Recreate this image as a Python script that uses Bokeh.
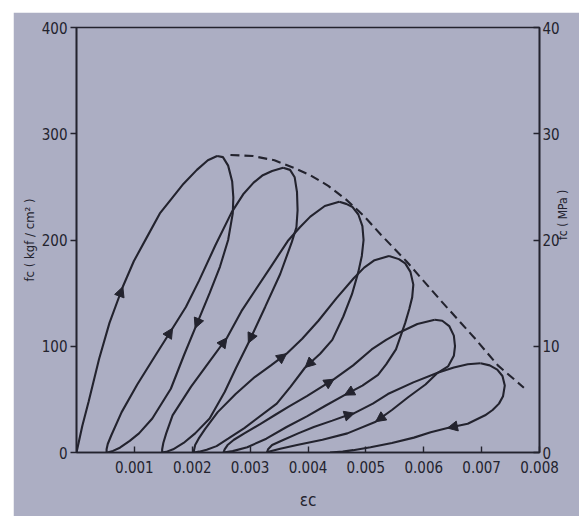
import math
from bokeh.plotting import figure
from bokeh.models import (Range1d, LinearAxis, FixedTicker, Arrow, NormalHead,
                          ColumnDataSource)
from bokeh.embed import file_html
from bokeh.resources import INLINE

# ---------------------------------------------------------------------------
# Concrete under repeated compressive loading: strain (-) vs stress (kgf/cm2)
# ---------------------------------------------------------------------------

# initial loading from the origin up to the first peak
load0_strain = [0, 0.0001, 0.00021, 0.00039, 0.00057, 0.0008, 0.00099, 0.00121,
                0.00144, 0.00163, 0.00185, 0.00208, 0.00227, 0.00243]
load0_stress = [0, 25, 48, 88, 122, 156, 180, 202, 225, 238, 253, 266, 275, 279]

# unloading branches (peak -> residual strain)
unload1_strain = [0.00243, 0.00253, 0.00262, 0.00269, 0.00271, 0.0027, 0.00262, 0.00248,
                  0.0023, 0.00205, 0.00186, 0.00163, 0.00131, 0.00108, 0.00092, 0.00075,
                  0.00063, 0.00055, 0.00052]
unload1_stress = [279, 278, 270, 255, 240, 225, 200, 175, 150, 117, 92, 60, 32, 18, 11,
                  4.5, 1.5, 0.3, 0]

unload2_strain = [0.00357, 0.00369, 0.00377, 0.00381, 0.00382, 0.0038, 0.00372, 0.00352,
                  0.00326, 0.00297, 0.00276, 0.00256, 0.0023, 0.00205, 0.00185, 0.00167,
                  0.00155, 0.00148]
unload2_stress = [268, 266, 259, 245, 228, 212, 198, 168, 137, 103, 80, 57, 32, 18, 9, 3,
                  0.6, 0]

unload3_strain = [0.00454, 0.00466, 0.00477, 0.00487, 0.00494, 0.00496, 0.00493, 0.00487,
                  0.00476, 0.00461, 0.00442, 0.00421, 0.00395, 0.0037, 0.00346, 0.0029,
                  0.00262, 0.00242, 0.00225, 0.00212, 0.00203]
unload3_stress = [236, 234, 231, 224, 213, 200, 185, 170, 149, 128, 106, 93, 80, 62, 46,
                  23, 13, 6, 2.5, 0.8, 0]

unload4_strain = [0.0054, 0.00557, 0.00568, 0.00577, 0.00582, 0.0058, 0.00575, 0.00568,
                  0.00552, 0.00535, 0.00521, 0.00494, 0.00463, 0.0043, 0.00398, 0.00363,
                  0.00328, 0.00295, 0.0027, 0.00254]
unload4_stress = [185, 182, 178, 170, 158, 146, 135, 122, 97, 83, 73, 63, 54, 44, 34, 24,
                  13, 5, 1.3, 0]

unload5_strain = [0.00619, 0.00632, 0.00644, 0.00652, 0.00654, 0.00652, 0.00642, 0.00624,
                  0.00603, 0.00573, 0.00545, 0.00517, 0.00468, 0.00425, 0.00381, 0.00352,
                  0.00335, 0.00329]
unload5_stress = [125, 124, 119, 110, 100, 91, 81, 75, 64, 52, 40, 29, 18, 12, 7, 3.5,
                  1.2, 0]

unload6_strain = [0.00698, 0.00714, 0.00727, 0.00736, 0.0074, 0.00737, 0.0073, 0.00719,
                  0.00706, 0.00676, 0.00641, 0.00612, 0.00583, 0.00545, 0.00508, 0.00478,
                  0.0046, 0.00438]
unload6_stress = [84, 82, 78, 72, 63, 53, 46, 40, 35, 27, 23, 19, 14, 9, 5, 2.2, 0.8, 0]

# reloading branches (residual strain -> next peak)
reload2_strain = [0.00052, 0.00052, 0.00054, 0.0006, 0.00078, 0.00105, 0.00136, 0.00166,
                  0.00189, 0.00212, 0.0024, 0.00268, 0.00288, 0.00306, 0.00322, 0.00338,
                  0.00357]
reload2_stress = [0, 3, 8, 16, 38, 64, 91, 117, 137, 162, 195, 226, 243, 254, 261, 265, 268]

reload3_strain = [0.00148, 0.00148, 0.0015, 0.00155, 0.00166, 0.00198, 0.00229, 0.0026,
                  0.00285, 0.00308, 0.00336, 0.00365, 0.00386, 0.00404, 0.00429, 0.00454]
reload3_stress = [0, 3, 9, 18, 35, 62, 85, 108, 133, 152, 175, 199, 212, 222, 232, 236]

reload4_strain = [0.00203, 0.00203, 0.00205, 0.00211, 0.00222, 0.00244, 0.00275, 0.00308,
                  0.00336, 0.00363, 0.0039, 0.00418, 0.00449, 0.00479, 0.00497, 0.00515,
                  0.0054]
reload4_stress = [0, 2, 7, 13, 22, 38, 55, 71, 82, 93, 107, 124, 145, 164, 174, 181, 185]

reload5_strain = [0.00254, 0.00256, 0.00261, 0.00272, 0.0029, 0.00318, 0.00345, 0.00366,
                  0.00398, 0.00445, 0.00478, 0.0051, 0.00535, 0.00558, 0.00589, 0.00619]
reload5_stress = [0, 3, 7, 12, 18, 27, 36, 43, 53, 69, 82, 97, 106, 113, 121, 125]

reload6_strain = [0.00329, 0.00331, 0.00338, 0.00358, 0.00383, 0.0041, 0.00442, 0.00468,
                  0.0048, 0.00512, 0.00538, 0.00582, 0.00624, 0.00652, 0.00676, 0.00698]
reload6_stress = [0, 3, 7, 12, 18, 24, 30, 35, 37, 46, 55, 66, 75, 80, 83, 84]

# envelope of the cycles (dashed)
envelope_strain = [0.00266, 0.00305, 0.00342, 0.00375, 0.00404, 0.00435, 0.00466, 0.00496,
                   0.00526, 0.0057, 0.00631, 0.00689, 0.00728, 0.00773]
envelope_stress = [280, 279, 275, 268, 261, 251, 238, 223, 205, 180, 142, 107, 82, 61]

# axis ticks and titles
strain_ticks = [0.001, 0.002, 0.003, 0.004, 0.005, 0.006, 0.007, 0.008]
strain_tick_labels = ["0.001", "0.002", "0.003", "0.004", "0.005", "0.006", "0.007", "0.008"]
kgf_ticks = [0, 100, 200, 300, 400]
mpa_ticks = [0, 10, 20, 30, 40]
x_title = "\u03b5c"
y_title_left = "fc ( kgf / cm\u00b2 )"
y_title_right = "fc ( MPa )"

# branches in loading order, with the point that carries each direction arrow
branches = [
    (load0_strain, load0_stress, 5),
    (unload1_strain, unload1_stress, 9),
    (reload2_strain, reload2_stress, 7),
    (unload2_strain, unload2_stress, 9),
    (reload3_strain, reload3_stress, 7),
    (unload3_strain, unload3_stress, 12),
    (reload4_strain, reload4_stress, 9),
    (unload4_strain, unload4_stress, 12),
    (reload5_strain, reload5_stress, 9),
    (unload5_strain, unload5_stress, 11),
    (reload6_strain, reload6_stress, 8),
    (unload6_strain, unload6_stress, 10),
]

INK = "#23232e"
PAPER = "#acaec3"
TICK_FONT = "Liberation Sans Narrow, DejaVu Sans Condensed, sans-serif"
TITLE_FONT = "DejaVu Sans Condensed, DejaVu Sans, sans-serif"

p = figure(width=566, height=504, margin=(12, 0, 0, 13),
           x_range=Range1d(0, 0.008), y_range=Range1d(0, 400),
           output_backend="svg", toolbar_location=None,
           min_border_left=63, min_border_right=30,
           min_border_top=15, min_border_bottom=64)
p.background_fill_color = PAPER
p.border_fill_color = PAPER
p.outline_line_color = INK
p.outline_line_width = 1.6
p.grid.visible = False

# loop branches
for xs, ys, _ in branches:
    p.line(xs, ys, line_color=INK, line_width=2.1)

# envelope
p.line(envelope_strain, envelope_stress, line_color=INK, line_width=2.1,
       line_dash="9 5")

# direction arrowheads along each branch
arr = dict(xs=[], ys=[], xe=[], ye=[])
for xs, ys, i in branches:
    arr["xs"].append(xs[i - 1]); arr["ys"].append(ys[i - 1])
    arr["xe"].append(xs[i]); arr["ye"].append(ys[i])
p.add_layout(Arrow(source=ColumnDataSource(arr), x_start="xs", y_start="ys",
                   x_end="xe", y_end="ye", line_alpha=0,
                   end=NormalHead(size=10, fill_color=INK, line_color=INK,
                                  line_width=1)))

# bottom axis: strain
xa = p.xaxis[0]
xa.ticker = FixedTicker(ticks=strain_ticks)
xa.major_label_overrides = {t: s for t, s in zip(strain_ticks, strain_tick_labels)}
xa.major_tick_in = 6
xa.major_tick_out = 0
xa.major_label_standoff = 8
xa.axis_label = x_title
xa.axis_label_standoff = 14
xa.axis_label_text_font_size = "17px"

# left axis: kgf/cm2
ya = p.yaxis[0]
ya.ticker = FixedTicker(ticks=kgf_ticks)
ya.major_tick_in = 0
ya.major_tick_out = 6
ya.major_label_standoff = 3
ya.axis_label = y_title_left
ya.axis_label_standoff = 2
ya.axis_label_text_font_size = "13px"

# right axis: MPa
p.extra_y_ranges = {"mpa": Range1d(0, 40)}
ra = LinearAxis(y_range_name="mpa", ticker=FixedTicker(ticks=mpa_ticks))
ra.major_tick_in = 6
ra.major_tick_out = 0
ra.major_label_standoff = 3
ra.axis_label = y_title_right
ra.axis_label_standoff = 0
ra.axis_label_text_font_size = "12px"
if "axis_label_orientation" in ra.properties():
    ra.axis_label_orientation = math.pi / 2
p.add_layout(ra, "right")

for ax in (xa, ya, ra):
    ax.minor_tick_line_color = None
    ax.axis_line_color = INK
    ax.axis_line_width = 1.6
    ax.major_tick_line_color = INK
    ax.major_tick_line_width = 1.4
    ax.major_label_text_color = INK
    ax.major_label_text_font = TICK_FONT
    ax.major_label_text_font_size = "15px"
    ax.axis_label_text_color = INK
    ax.axis_label_text_font = TITLE_FONT
    ax.axis_label_text_font_style = "normal"

open("out.html", "w").write(file_html(p, INLINE))
